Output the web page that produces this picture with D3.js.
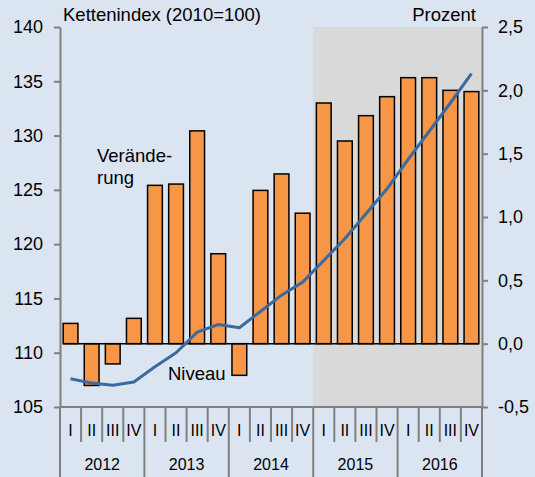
<!DOCTYPE html>
<html>
<head>
	<meta charset="utf-8">
	<title>Kettenindex</title>
	<script src="https://d3js.org/d3.v7.min.js"></script>
	<style>
		body { margin: 0; background: #dbe5f1; }
		svg { display: block; font-family: "Liberation Sans", Arial, sans-serif; }
	</style>
</head>
<body>
<div id="chart"></div>
<script type="text/javascript">

	// data
	var years = ["2012", "2013", "2014", "2015", "2016"];
	var quarters = ["I", "II", "III", "IV"];
	// Veraenderung in Prozent (rechte Achse)
	var veraenderung = [0.16, -0.33, -0.16, 0.20, 1.25, 1.26, 1.68, 0.71, -0.25, 1.21, 1.34, 1.03,
		1.90, 1.60, 1.80, 1.95, 2.10, 2.10, 2.00, 1.99];
	// Niveau, Kettenindex 2010=100 (linke Achse)
	var niveau = [107.6, 107.2, 107.0, 107.3, 108.7, 110.0, 111.9, 112.6, 112.3, 113.8, 115.3, 116.5,
		118.5, 120.5, 122.8, 125.1, 127.8, 130.4, 133.0, 135.7];
	var leftTicks = [105, 110, 115, 120, 125, 130, 135, 140];
	var rightTicks = [-0.5, 0, 0.5, 1, 1.5, 2, 2.5];
	var shadedFrom = "2015";

	var W = 535, H = 477;
	var pLeft = 60, pRight = 482, pTop = 27, pBottom = 407;

	var svg = d3.select("#chart").append("svg")
		.attr("width", W)
		.attr("height", H);

	var periods = [];
	years.forEach(function(y) {
		quarters.forEach(function(q) { periods.push(y + "-" + q); });
	});

	var x = d3.scaleBand()
		.domain(periods)
		.range([pLeft, pRight])
		.paddingInner(0.3)
		.paddingOuter(0.15);

	var yL = d3.scaleLinear().domain([105, 140]).range([pBottom, pTop]);
	var yR = d3.scaleLinear().domain([-0.5, 2.5]).range([pBottom, pTop]);

	var fmt = function(d) { return d3.format(".1f")(d).replace(".", ",").replace("\u2212", "-"); };

	// grey background for 2015-2016
	var shadeX = pLeft + x.step() * years.indexOf(shadedFrom) * 4;
	svg.append("rect")
		.attr("x", shadeX)
		.attr("y", pTop)
		.attr("width", pRight - shadeX)
		.attr("height", pBottom - pTop)
		.style("fill", "#d9d9d9");

	// bars
	svg.append("g").selectAll("rect")
		.data(veraenderung)
		.enter()
		.append("rect")
		.attr("x", function(d, i) { return x(periods[i]); })
		.attr("width", x.bandwidth())
		.attr("y", function(d) { return yR(Math.max(0, d)); })
		.attr("height", function(d) { return Math.abs(yR(d) - yR(0)); })
		.style("fill", "#f79646")
		.style("stroke", "#000")
		.style("stroke-width", 1.5);

	// zero line
	svg.append("line")
		.attr("x1", x(periods[0]))
		.attr("x2", x(periods[periods.length - 1]) + x.bandwidth())
		.attr("y1", yR(0))
		.attr("y2", yR(0))
		.style("stroke", "#000")
		.style("stroke-width", 1.5);

	// line
	var line = d3.line()
		.x(function(d, i) { return x(periods[i]) + x.bandwidth() / 2; })
		.y(function(d) { return yL(d); });

	svg.append("path")
		.datum(niveau)
		.attr("d", line)
		.style("fill", "none")
		.style("stroke", "#3b6aa0")
		.style("stroke-width", 3)
		.style("stroke-linejoin", "round");

	// axes
	var axisL = svg.append("g")
		.attr("transform", "translate(" + pLeft + ",0)")
		.call(d3.axisLeft(yL).tickValues(leftTicks).tickSize(6).tickPadding(11).tickSizeOuter(0));
	var axisR = svg.append("g")
		.attr("transform", "translate(" + pRight + ",0)")
		.call(d3.axisRight(yR).tickValues(rightTicks).tickSize(6).tickPadding(10).tickSizeOuter(0).tickFormat(fmt));

	[axisL, axisR].forEach(function(a) {
		a.select(".domain").style("stroke", "#808080").style("stroke-width", 2);
		a.selectAll(".tick line").style("stroke", "#808080").style("stroke-width", 2);
		a.selectAll(".tick text")
			.style("font-family", "'Liberation Sans', Arial, sans-serif")
			.style("font-size", "18px")
			.style("fill", "#000");
	});

	// bottom axis with quarter and year separators
	var cat = svg.append("g");
	cat.append("line")
		.attr("x1", pLeft).attr("x2", pRight)
		.attr("y1", pBottom).attr("y2", pBottom)
		.style("stroke", "#808080").style("stroke-width", 2);

	d3.range(periods.length + 1).forEach(function(i) {
		var xx = pLeft + i * x.step();
		cat.append("line")
			.attr("x1", xx).attr("x2", xx)
			.attr("y1", pBottom)
			.attr("y2", i % 4 === 0 ? H : 442)
			.style("stroke", "#808080")
			.style("stroke-width", 2);
	});

	cat.selectAll("text.q")
		.data(periods)
		.enter()
		.append("text")
		.attr("class", "q")
		.attr("x", function(d) { return x(d) + x.bandwidth() / 2; })
		.attr("y", 436)
		.attr("text-anchor", "middle")
		.style("font-size", "16px")
		.text(function(d) { return d.split("-")[1]; });

	cat.selectAll("text.y")
		.data(years)
		.enter()
		.append("text")
		.attr("class", "y")
		.attr("x", function(d, i) { return pLeft + (i * 4 + 2) * x.step(); })
		.attr("y", 470)
		.attr("text-anchor", "middle")
		.style("font-size", "16px")
		.text(function(d) { return d; });

	// titles and labels
	svg.append("text")
		.attr("x", 63).attr("y", 21)
		.style("font-size", "18.5px")
		.text("Kettenindex (2010=100)");
	svg.append("text")
		.attr("x", 476).attr("y", 21)
		.attr("text-anchor", "end")
		.style("font-size", "18.5px")
		.text("Prozent");

	svg.append("text")
		.attr("x", 97).attr("y", 162)
		.style("font-size", "18.5px")
		.text("Verände-");
	svg.append("text")
		.attr("x", 97).attr("y", 184)
		.style("font-size", "18.5px")
		.text("rung");
	svg.append("text")
		.attr("x", 168).attr("y", 380)
		.style("font-size", "18.5px")
		.text("Niveau");

</script>
</body>
</html>
